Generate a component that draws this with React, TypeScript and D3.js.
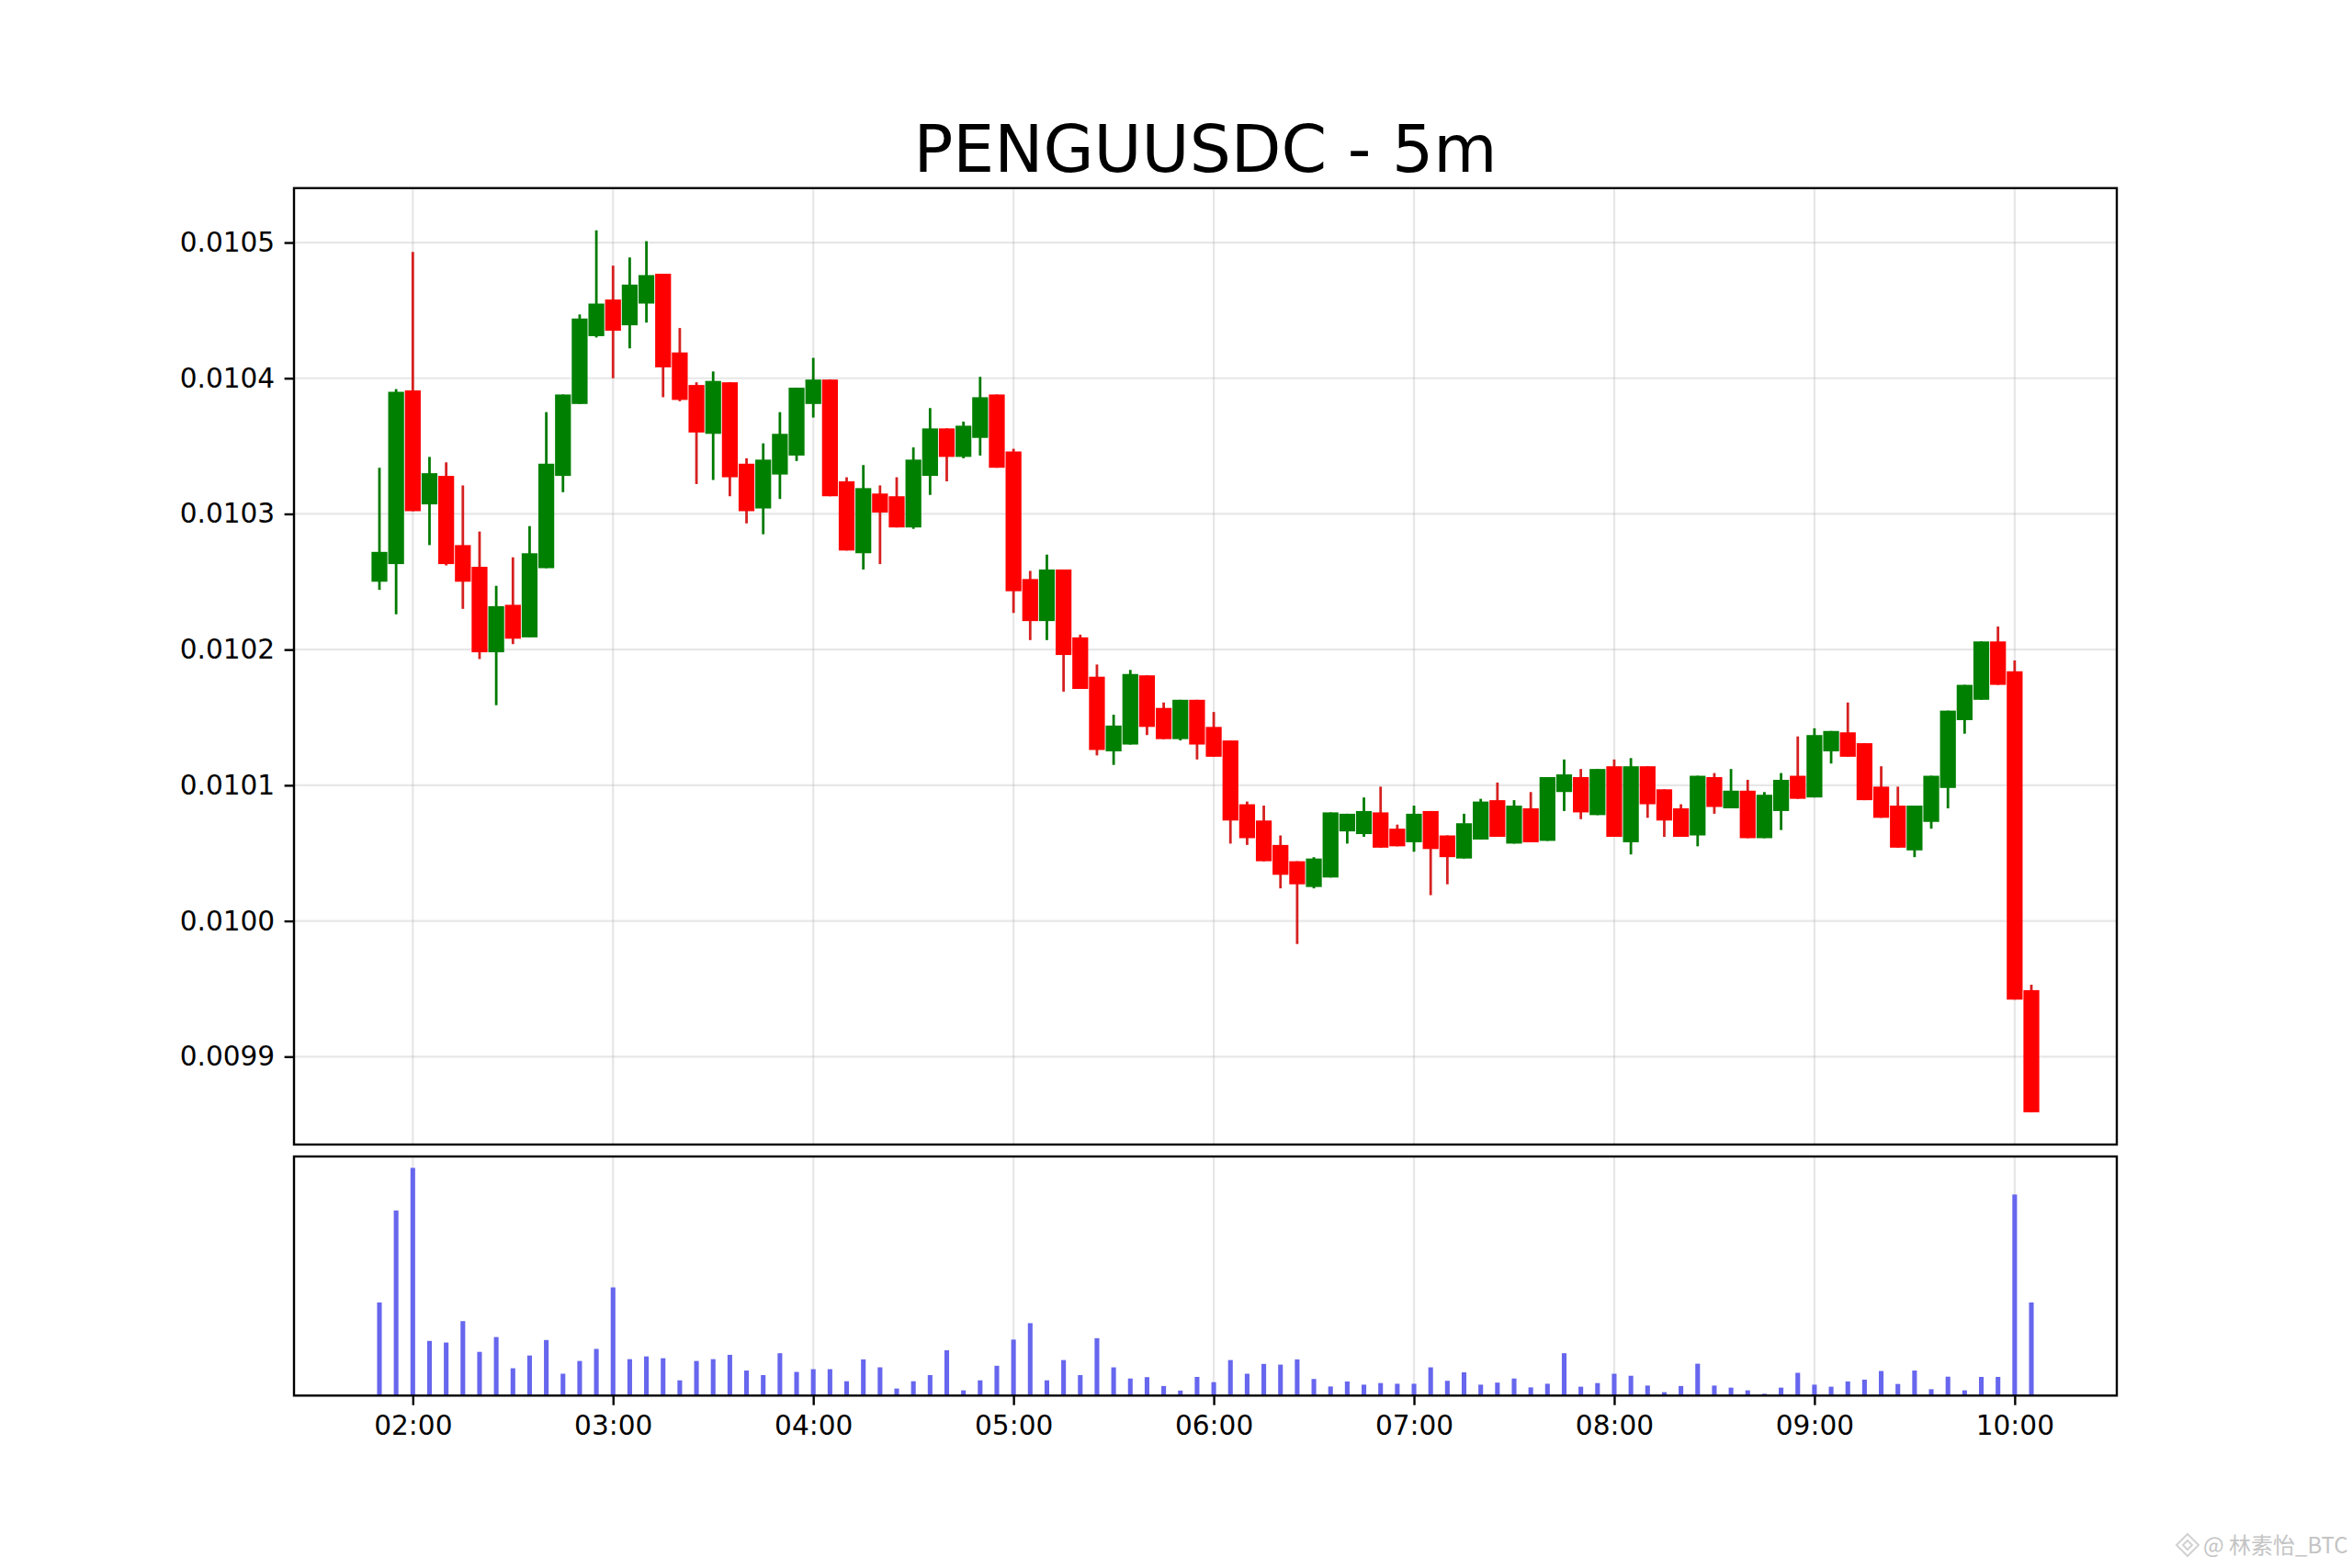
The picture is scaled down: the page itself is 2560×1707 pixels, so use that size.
import * as d3 from 'd3';
import React from 'react';

// 5m candles, starting 01:50 UTC
const startTime = Date.UTC(2025, 0, 1, 1, 50);
const stepMs = 5 * 60 * 1000;

// prices in units of 1e-6
const opens = [
  10250, 10263, 10391, 10307, 10328, 10277, 10261, 10198, 10233, 10209,
  10260, 10328, 10381, 10431, 10458, 10439, 10455, 10477, 10419, 10395,
  10359, 10397, 10337, 10304, 10329, 10343, 10381, 10399, 10324, 10271,
  10315, 10313, 10290, 10328, 10363, 10342, 10356, 10388, 10346, 10252,
  10221, 10259, 10209, 10180, 10125, 10130, 10181, 10157, 10134, 10163,
  10143, 10133, 10086, 10074, 10056, 10044, 10025, 10032, 10066, 10064,
  10080, 10068, 10058, 10081, 10063, 10046, 10060, 10089, 10057, 10083,
  10059, 10095, 10106, 10078, 10114, 10058, 10114, 10097, 10083, 10063,
  10106, 10083, 10096, 10061, 10081, 10107, 10091, 10125, 10139, 10131,
  10099, 10085, 10052, 10073, 10098, 10148, 10163, 10206, 10184, 9949,
];
const highs = [
  10334, 10392, 10493, 10342, 10338, 10321, 10287, 10247, 10268, 10291,
  10375, 10388, 10447, 10509, 10483, 10489, 10501, 10477, 10437, 10397,
  10405, 10397, 10341, 10352, 10375, 10393, 10415, 10399, 10327, 10336,
  10321, 10327, 10349, 10378, 10363, 10368, 10401, 10388, 10348, 10258,
  10270, 10259, 10211, 10189, 10152, 10185, 10181, 10161, 10163, 10163,
  10154, 10133, 10088, 10085, 10063, 10044, 10047, 10080, 10079, 10091,
  10099, 10071, 10085, 10081, 10063, 10079, 10090, 10102, 10089, 10095,
  10106, 10119, 10112, 10112, 10119, 10120, 10114, 10097, 10086, 10107,
  10109, 10112, 10104, 10095, 10109, 10136, 10142, 10140, 10161, 10131,
  10114, 10099, 10085, 10107, 10155, 10174, 10206, 10217, 10192, 9953,
];
const lows = [
  10244, 10226, 10302, 10277, 10262, 10230, 10193, 10159, 10204, 10209,
  10260, 10316, 10381, 10430, 10400, 10422, 10441, 10386, 10383, 10322,
  10325, 10313, 10293, 10285, 10311, 10339, 10371, 10313, 10273, 10259,
  10263, 10290, 10289, 10314, 10324, 10341, 10343, 10334, 10227, 10207,
  10207, 10169, 10171, 10122, 10115, 10130, 10137, 10134, 10133, 10119,
  10121, 10057, 10056, 10044, 10024, 9983, 10024, 10032, 10057, 10062,
  10054, 10055, 10051, 10019, 10027, 10046, 10060, 10062, 10057, 10058,
  10059, 10081, 10075, 10078, 10062, 10049, 10076, 10062, 10062, 10055,
  10079, 10083, 10061, 10061, 10067, 10090, 10091, 10116, 10121, 10089,
  10076, 10054, 10047, 10068, 10083, 10138, 10163, 10174, 9942, 9859,
];
const closes = [
  10272, 10390, 10302, 10330, 10263, 10250, 10198, 10232, 10208, 10271,
  10337, 10388, 10444, 10455, 10435, 10469, 10476, 10408, 10384, 10360,
  10398, 10327, 10302, 10340, 10359, 10393, 10399, 10313, 10273, 10319,
  10301, 10290, 10340, 10363, 10342, 10365, 10386, 10334, 10243, 10221,
  10259, 10196, 10171, 10126, 10144, 10182, 10143, 10134, 10163, 10130,
  10121, 10074, 10061, 10044, 10034, 10027, 10046, 10080, 10079, 10081,
  10054, 10055, 10079, 10053, 10047, 10072, 10088, 10062, 10085, 10058,
  10106, 10108, 10080, 10112, 10062, 10114, 10086, 10074, 10062, 10107,
  10084, 10096, 10061, 10093, 10104, 10090, 10137, 10140, 10121, 10089,
  10076, 10054, 10085, 10107, 10155, 10174, 10206, 10174, 9942, 9859,
];
// relative volume (max = 100)
const volumes = [
  40.9, 81.3, 100, 24.0, 23.3, 32.7, 19.2, 25.7, 12.0, 17.6,
  24.4, 9.6, 15.2, 20.5, 47.5, 16.0, 17.2, 16.4, 6.7, 15.2,
  16.0, 17.9, 11.0, 9.0, 18.6, 10.4, 11.6, 11.6, 6.3, 15.9,
  12.4, 3.1, 6.3, 9.0, 19.9, 2.3, 6.7, 13.1, 24.6, 31.8,
  6.7, 15.6, 9.0, 25.2, 12.4, 7.5, 8.1, 4.2, 2.2, 8.2,
  5.9, 15.6, 9.6, 13.9, 13.6, 15.9, 7.3, 4.0, 6.2, 4.8,
  5.5, 5.2, 5.2, 12.4, 6.5, 10.2, 4.8, 5.7, 7.5, 3.6,
  5.2, 18.6, 3.9, 5.5, 9.6, 8.7, 4.4, 1.5, 4.2, 14.0,
  4.4, 3.5, 2.3, 0.8, 3.5, 10.0, 4.8, 3.9, 6.2, 7.0,
  10.8, 5.1, 11.0, 2.8, 8.3, 2.3, 8.2, 8.2, 88.3, 40.9,
];
const yTicks = [0.0099, 0.01, 0.0101, 0.0102, 0.0103, 0.0104, 0.0105];
const yDomain = [0.0098352, 0.0105401];
const title = 'PENGUUSDC - 5m';
const watermark = '@ 林素怡_BTC';

type Candle = { t: Date; o: number; h: number; l: number; c: number; v: number };

const candles: Candle[] = opens.map((o, i) => ({
  t: new Date(startTime + i * stepMs),
  o: o / 1e6,
  h: highs[i] / 1e6,
  l: lows[i] / 1e6,
  c: closes[i] / 1e6,
  v: volumes[i],
}));

const W = 2560;
const H = 1707;
const FONT = '"DejaVu Sans", sans-serif';

export function CandleChart() {
  const ref = React.useRef<SVGSVGElement>(null);

  React.useEffect(() => {
    if (!ref.current) return;
    const svg = d3.select(ref.current);
    svg.selectAll('*').remove();

    const left = 320;
    const right = 2304;
    const priceTop = 204.8;
    const priceBottom = 1246;
    const volTop = 1259;
    const volBottom = 1519.3;

    const x = d3
      .scaleTime()
      .domain([new Date(startTime - 5.12 * stepMs), new Date(startTime + 104.12 * stepMs)])
      .range([left, right]);
    const step = x(new Date(startTime + stepMs)) - x(new Date(startTime));

    const y = d3.scaleLinear().domain(yDomain).range([priceBottom, priceTop]);
    const yv = d3
      .scaleLinear()
      .domain([0, (d3.max(candles, (d) => d.v) as number) * 1.05])
      .range([volBottom, volTop]);

    const hours = x.ticks(d3.utcHour.every(1) as any);

    svg.append('rect').attr('width', W).attr('height', H).attr('fill', '#fff');

    // grid
    const grid = svg.append('g').attr('stroke', '#b0b0b0').attr('stroke-opacity', 0.3).attr('stroke-width', 2.2);
    grid
      .selectAll('line.hg')
      .data(yTicks)
      .enter()
      .append('line')
      .attr('x1', left)
      .attr('x2', right)
      .attr('y1', (d) => y(d))
      .attr('y2', (d) => y(d));
    grid
      .selectAll('line.vg')
      .data(hours)
      .enter()
      .append('line')
      .attr('x1', (d) => x(d))
      .attr('x2', (d) => x(d))
      .attr('y1', priceTop)
      .attr('y2', priceBottom);
    grid
      .selectAll('line.vg2')
      .data(hours)
      .enter()
      .append('line')
      .attr('x1', (d) => x(d))
      .attr('x2', (d) => x(d))
      .attr('y1', volTop)
      .attr('y2', volBottom);

    // wicks then bodies
    const bodyW = step * 0.95;
    svg
      .append('g')
      .selectAll('line')
      .data(candles)
      .enter()
      .append('line')
      .attr('x1', (d) => x(d.t))
      .attr('x2', (d) => x(d.t))
      .attr('y1', (d) => y(d.h))
      .attr('y2', (d) => y(d.l))
      .attr('stroke', (d) => (d.c >= d.o ? '#007a00' : '#d62020'))
      .attr('stroke-width', 2.8);
    svg
      .append('g')
      .selectAll('rect')
      .data(candles)
      .enter()
      .append('rect')
      .attr('x', (d) => x(d.t) - bodyW / 2)
      .attr('width', bodyW)
      .attr('y', (d) => y(Math.max(d.o, d.c)))
      .attr('height', (d) => Math.max(1, Math.abs(y(d.o) - y(d.c))))
      .attr('fill', (d) => (d.c >= d.o ? '#008000' : '#ff0000'));

    // volume
    const barW = step * 0.28;
    svg
      .append('g')
      .selectAll('rect')
      .data(candles)
      .enter()
      .append('rect')
      .attr('x', (d) => x(d.t) - barW / 2)
      .attr('width', barW)
      .attr('y', (d) => yv(d.v))
      .attr('height', (d) => volBottom - yv(d.v))
      .attr('fill', '#6666ee');

    // spines
    const spines = svg.append('g').attr('fill', 'none').attr('stroke', '#000').attr('stroke-width', 2.4);
    spines.append('rect').attr('x', left).attr('y', priceTop).attr('width', right - left).attr('height', priceBottom - priceTop);
    spines.append('rect').attr('x', left).attr('y', volTop).attr('width', right - left).attr('height', volBottom - volTop);

    // axes
    const yAxis = svg
      .append('g')
      .attr('transform', `translate(${left},0)`)
      .call(d3.axisLeft(y).tickValues(yTicks).tickFormat(d3.format('.4f') as any).tickSize(10.4).tickPadding(10.4));
    const xAxis = svg
      .append('g')
      .attr('transform', `translate(0,${volBottom})`)
      .call(d3.axisBottom(x).tickValues(hours).tickFormat(d3.utcFormat('%H:%M') as any).tickSize(10.4).tickPadding(11));
    [yAxis, xAxis].forEach((a) => {
      a.select('.domain').remove();
      a.selectAll('line').attr('stroke', '#000').attr('stroke-width', 2.4);
      a.selectAll('text').attr('font-family', FONT).attr('font-size', 29.6).attr('fill', '#000');
    });

    // title
    svg
      .append('text')
      .attr('x', (left + right) / 2)
      .attr('y', 187.3)
      .attr('text-anchor', 'middle')
      .attr('font-family', FONT)
      .attr('font-size', 71.1)
      .text(title);

    // watermark
    const wm = svg.append('g').attr('stroke', '#d2d2d2').attr('fill', 'none').attr('stroke-width', 2);
    const cx = 2381;
    const cy = 1682;
    wm.append('path').attr('d', `M${cx},${cy - 12} L${cx + 12},${cy} L${cx},${cy + 12} L${cx - 12},${cy} Z`);
    wm.append('path').attr('d', `M${cx},${cy - 5} L${cx + 5},${cy} L${cx},${cy + 5} L${cx - 5},${cy} Z`);
    svg
      .append('text')
      .attr('x', 2398)
      .attr('y', 1691)
      .attr('font-family', '"Noto Sans CJK SC", sans-serif')
      .attr('font-size', 24)
      .attr('fill', '#c4c4c4')
      .text(watermark);
  }, []);

  return <svg ref={ref} width={W} height={H} style={{ position: 'absolute', left: 0, top: 0 }} />;
}

export default function App() {
  return <CandleChart />;
}
